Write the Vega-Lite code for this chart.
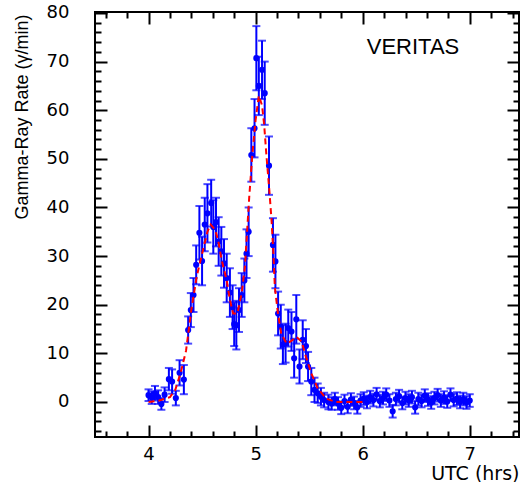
{
  "$schema": "https://vega.github.io/schema/vega-lite/v6.json",
  "width": 424,
  "height": 425,
  "autosize": {"type": "none"},
  "padding": {"left": 95, "top": 12, "right": 1, "bottom": 45},
  "background": "white",
  "config": {
    "view": {"stroke": "#000000", "strokeWidth": 2},
    "axis": {"grid": false, "domain": false, "ticks": true, "labelFont": "DejaVu Sans", "labelFontSize": 18, "labelColor": "#000", "tickColor": "#000", "titleColor": "#000", "titleFontWeight": "normal", "labelOverlap": false, "labelFlush": false, "tickWidth": 2, "tickOpacity": 1}
  },
  "datasets": {
    "pts": [
      {"t":4.000,"r":1.4,"e":1.2},{"t":4.030,"r":0.9,"e":1.3},{"t":4.060,"r":1.8,"e":1.5},{"t":4.090,"r":1.0,"e":1.4},
      {"t":4.120,"r":-0.4,"e":1.2},{"t":4.150,"r":1.5,"e":1.5},{"t":4.190,"r":4.7,"e":2.3},{"t":4.220,"r":4.2,"e":2.5},
      {"t":4.255,"r":0.8,"e":1.5},{"t":4.290,"r":6.0,"e":2.6},{"t":4.330,"r":4.6,"e":3.0},{"t":4.370,"r":14.8,"e":2.8},
      {"t":4.395,"r":18.9,"e":3.5},{"t":4.420,"r":22.0,"e":3.5},{"t":4.445,"r":28.2,"e":4.0},{"t":4.475,"r":34.8,"e":5.5},
      {"t":4.500,"r":29.0,"e":5.0},{"t":4.525,"r":36.5,"e":5.5},{"t":4.550,"r":38.8,"e":6.0},{"t":4.585,"r":40.9,"e":4.8},
      {"t":4.605,"r":36.0,"e":5.5},{"t":4.630,"r":37.0,"e":5.0},{"t":4.655,"r":33.0,"e":5.0},{"t":4.680,"r":31.0,"e":5.0},
      {"t":4.705,"r":28.5,"e":5.0},{"t":4.730,"r":25.5,"e":5.0},{"t":4.760,"r":22.5,"e":5.0},{"t":4.785,"r":19.5,"e":4.5},
      {"t":4.800,"r":16.0,"e":4.5},{"t":4.820,"r":15.8,"e":5.0},{"t":4.845,"r":18.9,"e":4.5},{"t":4.870,"r":22.0,"e":4.5},
      {"t":4.895,"r":25.0,"e":4.5},{"t":4.915,"r":30.5,"e":5.0},{"t":4.935,"r":35.0,"e":5.0},{"t":4.960,"r":50.8,"e":5.5},
      {"t":4.990,"r":56.3,"e":6.0},{"t":5.007,"r":70.7,"e":6.6},{"t":5.030,"r":65.0,"e":6.0},{"t":5.060,"r":68.3,"e":6.0},
      {"t":5.085,"r":63.5,"e":6.5},{"t":5.125,"r":48.6,"e":6.0},{"t":5.162,"r":32.3,"e":5.5},{"t":5.185,"r":28.9,"e":5.5},
      {"t":5.210,"r":18.2,"e":4.5},{"t":5.235,"r":15.5,"e":4.5},{"t":5.255,"r":11.8,"e":4.0},{"t":5.280,"r":12.1,"e":4.0},
      {"t":5.305,"r":15.2,"e":3.8},{"t":5.335,"r":14.5,"e":4.0},{"t":5.360,"r":9.0,"e":4.0},{"t":5.380,"r":17.0,"e":5.0},
      {"t":5.410,"r":7.3,"e":3.5},{"t":5.440,"r":12.8,"e":4.0},{"t":5.470,"r":11.5,"e":3.5},{"t":5.490,"r":7.3,"e":3.0},
      {"t":5.520,"r":4.2,"e":2.8},{"t":5.550,"r":2.5,"e":2.5},{"t":5.580,"r":1.8,"e":2.0},{"t":5.610,"r":1.1,"e":1.8},
      {"t":5.640,"r":0.4,"e":1.5},{"t":5.680,"r":0.0,"e":1.5},{"t":5.710,"r":-0.3,"e":1.3},
      {"t":5.74,"r":0.6,"e":1.3},{"t":5.77,"r":-0.3,"e":1.3},{"t":5.80,"r":-1.2,"e":1.3},{"t":5.83,"r":0.2,"e":1.3},
      {"t":5.86,"r":-1.0,"e":1.3},{"t":5.89,"r":0.5,"e":1.3},{"t":5.92,"r":-0.2,"e":1.3},{"t":5.95,"r":-1.1,"e":1.3},
      {"t":5.98,"r":0.3,"e":1.3},{"t":6.01,"r":0.7,"e":1.3},{"t":6.04,"r":0.0,"e":1.3},{"t":6.07,"r":1.0,"e":1.3},
      {"t":6.10,"r":0.4,"e":1.3},{"t":6.13,"r":1.6,"e":1.3},{"t":6.16,"r":0.2,"e":1.3},{"t":6.19,"r":0.8,"e":1.3},
      {"t":6.22,"r":1.5,"e":1.3},{"t":6.25,"r":0.3,"e":1.3},{"t":6.28,"r":-1.9,"e":1.3},{"t":6.31,"r":0.6,"e":1.3},
      {"t":6.34,"r":1.2,"e":1.3},{"t":6.37,"r":-0.2,"e":1.3},{"t":6.40,"r":0.8,"e":1.3},{"t":6.43,"r":0.3,"e":1.3},
      {"t":6.46,"r":1.0,"e":1.3},{"t":6.49,"r":-1.1,"e":1.3},{"t":6.52,"r":0.6,"e":1.3},{"t":6.55,"r":0.2,"e":1.3},
      {"t":6.58,"r":1.3,"e":1.3},{"t":6.61,"r":0.5,"e":1.3},{"t":6.64,"r":-0.1,"e":1.3},{"t":6.67,"r":0.8,"e":1.3},
      {"t":6.70,"r":1.4,"e":1.3},{"t":6.73,"r":0.3,"e":1.3},{"t":6.76,"r":0.9,"e":1.3},{"t":6.79,"r":0.1,"e":1.3},
      {"t":6.82,"r":1.5,"e":1.3},{"t":6.85,"r":0.4,"e":1.3},{"t":6.88,"r":0.7,"e":1.3},{"t":6.91,"r":0.0,"e":1.3},
      {"t":6.94,"r":0.6,"e":1.3},{"t":6.97,"r":-0.1,"e":1.3},{"t":7.00,"r":0.3,"e":1.3}
    ],
    "fit": [
      {"t":4.00,"f":0},{"t":4.10,"f":0.3},{"t":4.20,"f":1.0},{"t":4.25,"f":2.5},{"t":4.30,"f":6},{"t":4.35,"f":10.5},
      {"t":4.40,"f":19},{"t":4.45,"f":25.8},{"t":4.50,"f":30.5},{"t":4.55,"f":35},{"t":4.58,"f":36.5},{"t":4.62,"f":35.5},
      {"t":4.65,"f":33.3},{"t":4.68,"f":29.5},{"t":4.73,"f":25},{"t":4.76,"f":21},{"t":4.79,"f":18.2},{"t":4.83,"f":18.2},
      {"t":4.87,"f":22.4},{"t":4.90,"f":27.8},{"t":4.94,"f":42},{"t":4.97,"f":51},{"t":5.00,"f":58},{"t":5.03,"f":63},
      {"t":5.06,"f":61},{"t":5.08,"f":57},{"t":5.10,"f":51},{"t":5.13,"f":43},{"t":5.15,"f":37},{"t":5.165,"f":31},
      {"t":5.18,"f":23.5},{"t":5.21,"f":18},{"t":5.24,"f":14},{"t":5.29,"f":12},{"t":5.33,"f":12.5},{"t":5.38,"f":13.4},
      {"t":5.43,"f":12.4},{"t":5.47,"f":9.3},{"t":5.52,"f":5.9},{"t":5.58,"f":2.8},{"t":5.66,"f":0.7},{"t":5.75,"f":0},{"t":6.00,"f":0}
    ],
    "label": [{"name": "VERITAS", "t": 6.47, "r": 73}]
  },
  "resolve": {"scale": {"x": "independent", "y": "independent"}, "axis": {"x": "independent", "y": "independent"}},
  "layer": [
    {
      "data": {"name": "pts"},
      "mark": {"type": "errorbar", "ticks": true, "color": "#0000ff", "thickness": 2, "size": 8},
      "encoding": {
        "x": {"field": "t", "type": "quantitative", "scale": {"domain": [3.5, 7.46], "nice": false, "zero": false},
              "axis": {"orient": "top", "values": [3.6,3.8,4.2,4.4,4.6,4.8,5.2,5.4,5.6,5.8,6.2,6.4,6.6,6.8,7.2,7.4], "labels": false, "offset": -6, "tickSize": 6, "title": null}},
        "y": {"field": "r", "type": "quantitative", "scale": {"domain": [-7.2, 80.2], "nice": false, "zero": false},
              "axis": {"orient": "right", "values": [-6,-4,-2,2,4,6,8,12,14,16,18,22,24,26,28,32,34,36,38,42,44,46,48,52,54,56,58,62,64,66,68,72,74,76,78], "labels": false, "offset": -6, "tickSize": 6, "title": null}},
        "yError": {"field": "e"}
      }
    },
    {
      "data": {"name": "pts"},
      "mark": {"type": "circle", "size": 38, "color": "#0000ff", "opacity": 1},
      "encoding": {
        "x": {"field": "t", "type": "quantitative", "scale": {"domain": [3.5, 7.46], "nice": false, "zero": false},
              "axis": {"orient": "bottom", "values": [4, 5, 6, 7], "format": ".0f", "tickSize": -12,
                       "labelPadding": 20, "title": "UTC (hrs)", "titleFont": "DejaVu Sans", "titleFontSize": 19, "titleAnchor": "end", "titleAlign": "right", "titleBaseline": "middle", "titleX": 424, "titleY": 36}},
        "y": {"field": "r", "type": "quantitative", "scale": {"domain": [-7.2, 80.2], "nice": false, "zero": false},
              "axis": {"orient": "left", "values": [0, 10, 20, 30, 40, 50, 60, 70, 80], "tickSize": -12,
                       "labelPadding": 38, "title": "Gamma-Ray Rate (γ/min)", "titleFont": "Liberation Sans", "titleFontSize": 18, "titleAngle": -90, "titleAlign": "right", "titleBaseline": "middle", "titleX": -73, "titleY": 2}}
      }
    },
    {
      "data": {"name": "fit"},
      "mark": {"type": "line", "color": "#ff0000", "strokeDash": [6, 4], "strokeWidth": 2},
      "encoding": {
        "x": {"field": "t", "type": "quantitative", "scale": {"domain": [3.5, 7.46], "nice": false, "zero": false},
              "axis": {"orient": "bottom", "values": [3.6,3.8,4.2,4.4,4.6,4.8,5.2,5.4,5.6,5.8,6.2,6.4,6.6,6.8,7.2,7.4], "labels": false, "offset": -6, "tickSize": 6, "title": null}},
        "y": {"field": "f", "type": "quantitative", "scale": {"domain": [-7.2, 80.2], "nice": false, "zero": false},
              "axis": {"orient": "left", "values": [-6,-4,-2,2,4,6,8,12,14,16,18,22,24,26,28,32,34,36,38,42,44,46,48,52,54,56,58,62,64,66,68,72,74,76,78], "labels": false, "offset": -6, "tickSize": 6, "title": null}}
      }
    },
    {
      "data": {"name": "label"},
      "mark": {"type": "text", "font": "Liberation Sans", "fontSize": 22, "color": "#000", "align": "center", "baseline": "middle"},
      "encoding": {
        "x": {"field": "t", "type": "quantitative", "scale": {"domain": [3.5, 7.46], "nice": false, "zero": false},
              "axis": {"orient": "top", "values": [4, 5, 6, 7], "labels": false, "offset": -12, "tickSize": 12, "title": null}},
        "y": {"field": "r", "type": "quantitative", "scale": {"domain": [-7.2, 80.2], "nice": false, "zero": false},
              "axis": {"orient": "right", "values": [0, 10, 20, 30, 40, 50, 60, 70, 80], "labels": false, "offset": -12, "tickSize": 12, "title": null}},
        "text": {"field": "name"}
      }
    }
  ]
}
